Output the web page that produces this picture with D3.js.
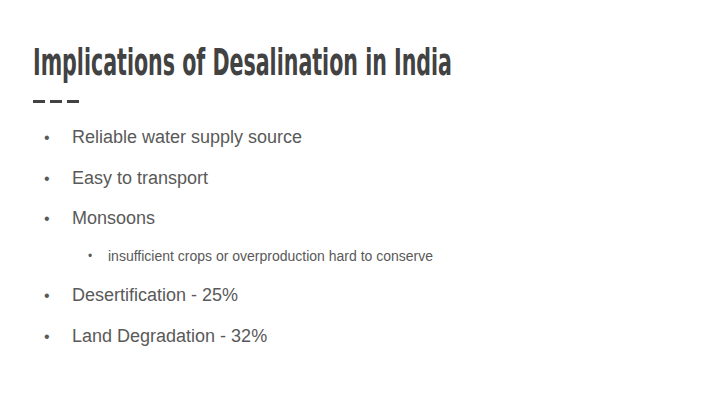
<!DOCTYPE html>
<html><head><meta charset="utf-8">
<script src="https://cdn.jsdelivr.net/npm/d3@7"></script>
<style>body{margin:0;background:#fff}</style></head>
<body><script>
const title = "Implications of Desalination in India";
const bullets = [
  {text:"Reliable water supply source", level:0, y:137},
  {text:"Easy to transport", level:0, y:178},
  {text:"Monsoons", level:0, y:218},
  {text:"insufficient crops or overproduction hard to conserve", level:1, y:256},
  {text:"Desertification - 25%", level:0, y:295},
  {text:"Land Degradation - 32%", level:0, y:336}
];
const dashes = [0,1,2];
const svg = d3.select("body").append("svg").attr("width",720).attr("height",405);
svg.append("rect").attr("width",720).attr("height",405).attr("fill","#fff");
svg.append("text").attr("x",33).attr("y",75).text(title)
  .attr("font-family","'DejaVu Sans Condensed','Liberation Sans Narrow',sans-serif")
  .attr("font-size",38).attr("font-weight","bold").attr("fill","#424242")
  .attr("textLength",419).attr("lengthAdjust","spacingAndGlyphs");
const dx = d3.scaleLinear().domain([0,1]).range([33,50]);
svg.selectAll("rect.d").data(dashes).join("rect").attr("class","d")
  .attr("x",d=>dx(d)).attr("y",100).attr("width",12).attr("height",3).attr("fill","#424242");
const g = svg.selectAll("g.b").data(bullets).join("g").attr("class","b")
  .attr("transform",d=>`translate(0,${d.y})`);
g.append("text").attr("x",d=>d.level?88:44).attr("dy","0.35em").text("•")
  .attr("font-family","Arial,'Liberation Sans',sans-serif")
  .attr("font-size",d=>d.level?12:16).attr("fill","#595959");
g.append("text").attr("x",d=>d.level?108:72).attr("dy","0.35em").text(d=>d.text)
  .attr("font-family","Arial,'Liberation Sans',sans-serif")
  .attr("font-size",d=>d.level?14:18).attr("fill","#595959");
</script></body></html>
